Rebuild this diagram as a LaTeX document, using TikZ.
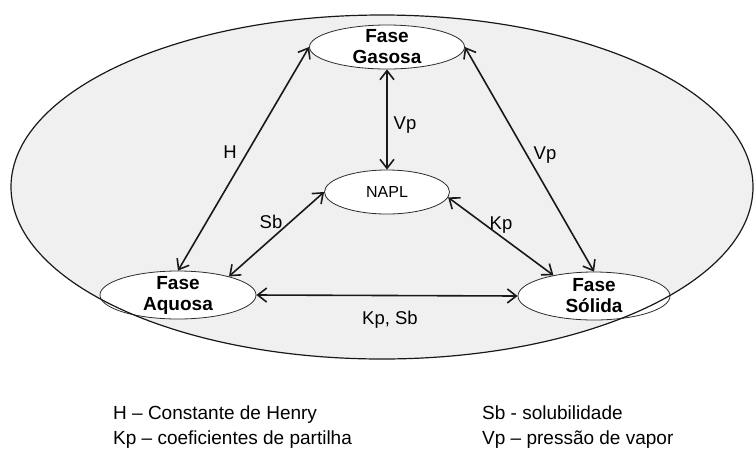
\documentclass[tikz,border=0pt]{standalone}
\usepackage{fontspec}
\setmainfont{Liberation Sans}
\usetikzlibrary{shapes.geometric,arrows.meta}
\definecolor{fundo}{RGB}{240,240,240}
\definecolor{traco}{RGB}{45,45,45}
\tikzset{
  fase/.style={ellipse,draw=traco,line width=0.8pt,fill=white,inner sep=0pt},
  fasetxt/.style={font=\fontsize{19}{21}\selectfont\bfseries,align=center,inner sep=0pt},
  troca/.style={{Straight Barb[length=9pt,width=14pt]}-{Straight Barb[length=9pt,width=14pt]},line width=1.6pt,draw=black!90},
  rot/.style={font=\fontsize{18.5}{21}\selectfont,inner sep=0pt},
  legenda/.style={font=\fontsize{19}{21}\selectfont,anchor=base west,inner sep=0pt}
}

\begin{document}
\begin{tikzpicture}[x=1pt,y=-1pt]
\useasboundingbox (0,0) rectangle (755,467);
\fill[fundo] (382,187) ellipse [x radius=371,y radius=172];
% fases
\node[fase,minimum width=155pt,minimum height=44pt] (gas) at (387,47) {};
\node[fase,minimum width=125pt,minimum height=44pt] (napl) at (387,192) {};
\node[fase,minimum width=156pt,minimum height=48pt] (aq) at (178,295) {};
\node[fase,minimum width=152pt,minimum height=48pt] (sol) at (594,296) {};
\node[fasetxt] (gasT) at (gas) {Fase\\Gasosa};
\node[rot,font=\fontsize{16}{19}\selectfont] (naplT) at (napl) {NAPL};
\node[fasetxt] (aqT) at (aq) {Fase\\Aquosa};
\node[fasetxt] (solT) at (sol) {Fase\\Sólida};
% trocas entre fases
\draw[troca] (gas.west) -- (aq.north);
\draw[troca] (gas.south) -- (napl.north);
\draw[troca] (gas.east) -- (sol.north);
\draw[troca] (napl.west) -- (aq.20);
\draw[troca] (napl.-5) -- (sol.153);
\draw[troca] (aq.east) -- (sol.west);
\node[rot] (rH) at (230,152) {H};
\node[rot] (rVp) at (405,125) {Vp};
\node[rot] (rVp2) at (545,155) {Vp};
\node[rot] (rSb) at (271,222) {Sb};
\node[rot] (rKp) at (501,225) {Kp};
\node[rot] (rKpSb) at (390,320) {Kp, Sb};
\draw[line width=1.2pt,draw=black!90] (382,187) ellipse [x radius=371,y radius=172];
% legenda
\node[legenda] (legH) at (113,419) {H – Constante de Henry};
\node[legenda] (legKp) at (113,444) {Kp – coeficientes de partilha};
\node[legenda] (legSb) at (482,419) {Sb - solubilidade};
\node[legenda] (legVp) at (482,444) {Vp – pressão de vapor};
\end{tikzpicture}
\end{document}
